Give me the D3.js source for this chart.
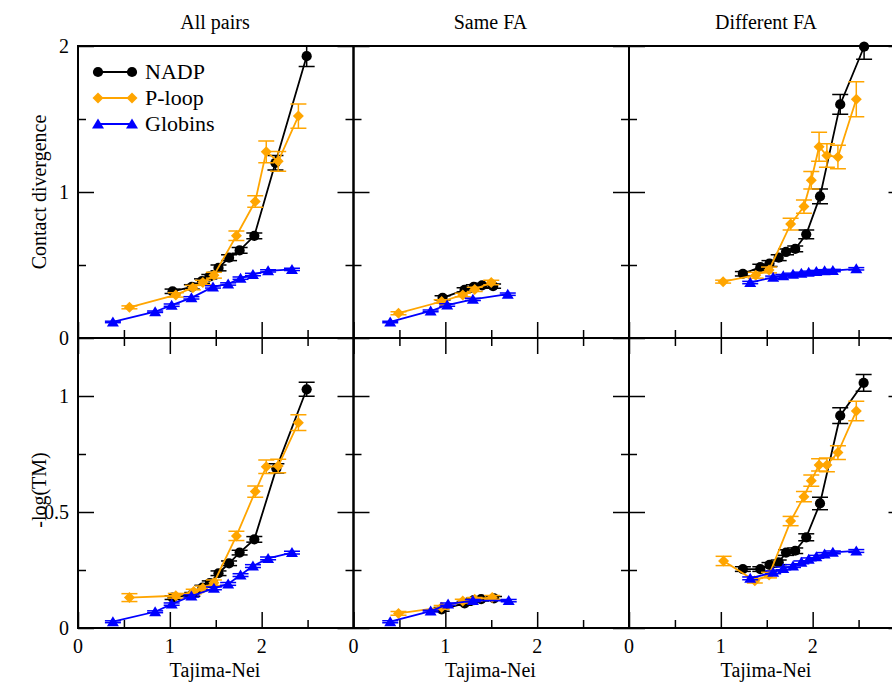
<!DOCTYPE html>
<html>
<head>
<meta charset="utf-8">
<script src="https://cdn.jsdelivr.net/npm/d3@7"></script>
<style>
  body { margin: 0; background: #fff; }
</style>
</head>
<body>
<div id="chart"></div>
<script>
// [Tajima-Nei, value, error]
var allCdNadp = [[1.03,0.32,0.015],[1.24,0.35,0.015],[1.35,0.39,0.015],[1.43,0.42,0.015],[1.53,0.48,0.02],[1.645,0.55,0.02],[1.76,0.60,0.02],[1.92,0.70,0.02],[2.15,1.20,0.05],[2.49,1.93,0.07]];
var allCdPloop = [[0.56,0.21,0.01],[1.065,0.295,0.015],[1.25,0.345,0.015],[1.36,0.38,0.015],[1.48,0.43,0.02],[1.725,0.70,0.033],[1.93,0.935,0.04],[2.05,1.275,0.075],[2.18,1.21,0.068],[2.40,1.52,0.083]];
var allCdGlob = [[0.38,0.11,0.005],[0.84,0.18,0.005],[1.02,0.225,0.008],[1.235,0.275,0.008],[1.47,0.35,0.008],[1.635,0.37,0.008],[1.77,0.41,0.008],[1.905,0.435,0.008],[2.07,0.46,0.008],[2.33,0.47,0.008]];

var sameCdNadp = [[0.97,0.275,0.015],[1.21,0.33,0.015],[1.31,0.35,0.015],[1.40,0.36,0.015],[1.52,0.355,0.015]];
var sameCdPloop = [[0.49,0.17,0.01],[0.96,0.25,0.012],[1.19,0.295,0.012],[1.32,0.333,0.015],[1.50,0.38,0.015]];
var sameCdGlob = [[0.40,0.11,0.005],[0.84,0.185,0.006],[1.02,0.226,0.008],[1.30,0.265,0.008],[1.68,0.30,0.008]];

var diffCdNadp = [[1.24,0.44,0.015],[1.43,0.485,0.02],[1.53,0.51,0.02],[1.63,0.55,0.02],[1.71,0.59,0.02],[1.81,0.61,0.02],[1.93,0.71,0.03],[2.08,0.97,0.05],[2.30,1.60,0.068],[2.56,1.995,0.086]];
var diffCdPloop = [[1.025,0.386,0.01],[1.38,0.43,0.02],[1.525,0.466,0.02],[1.76,0.78,0.04],[1.905,0.90,0.045],[1.985,1.08,0.06],[2.07,1.31,0.10],[2.155,1.25,0.08],[2.275,1.24,0.08],[2.475,1.635,0.12]];
var diffCdGlob = [[1.32,0.38,0.008],[1.57,0.416,0.008],[1.68,0.427,0.008],[1.786,0.436,0.008],[1.877,0.443,0.008],[1.957,0.45,0.008],[2.04,0.455,0.008],[2.13,0.46,0.008],[2.22,0.462,0.008],[2.475,0.474,0.008]];

var allTmNadp = [[1.03,0.131,0.008],[1.245,0.145,0.008],[1.355,0.174,0.01],[1.435,0.193,0.01],[1.53,0.236,0.01],[1.645,0.279,0.01],[1.76,0.325,0.01],[1.92,0.382,0.012],[2.16,0.688,0.02],[2.49,1.029,0.03]];
var allTmPloop = [[0.56,0.131,0.017],[1.065,0.139,0.01],[1.26,0.157,0.01],[1.36,0.171,0.01],[1.48,0.195,0.012],[1.725,0.397,0.02],[1.93,0.588,0.024],[2.05,0.695,0.029],[2.18,0.698,0.029],[2.40,0.885,0.034]];
var allTmGlob = [[0.38,0.027,0.004],[0.84,0.070,0.004],[1.02,0.103,0.005],[1.235,0.138,0.005],[1.48,0.171,0.006],[1.635,0.19,0.006],[1.77,0.228,0.006],[1.905,0.267,0.006],[2.07,0.30,0.006],[2.33,0.325,0.006]];

var sameTmNadp = [[0.96,0.08,0.008],[1.21,0.106,0.008],[1.31,0.12,0.008],[1.39,0.124,0.008],[1.53,0.128,0.008]];
var sameTmPloop = [[0.49,0.063,0.008],[0.96,0.089,0.008],[1.19,0.116,0.008],[1.32,0.124,0.008],[1.51,0.132,0.008]];
var sameTmGlob = [[0.40,0.027,0.004],[0.84,0.073,0.004],[1.03,0.103,0.005],[1.30,0.118,0.005],[1.69,0.118,0.005]];

var diffTmNadp = [[1.24,0.254,0.01],[1.43,0.254,0.01],[1.53,0.272,0.01],[1.63,0.283,0.01],[1.71,0.325,0.012],[1.81,0.333,0.012],[1.93,0.391,0.015],[2.08,0.537,0.027],[2.30,0.915,0.034],[2.555,1.057,0.036]];
var diffTmPloop = [[1.03,0.289,0.02],[1.37,0.204,0.01],[1.525,0.228,0.012],[1.76,0.461,0.02],[1.905,0.566,0.022],[1.985,0.635,0.024],[2.07,0.703,0.026],[2.155,0.703,0.03],[2.275,0.756,0.03],[2.475,0.935,0.042]];
var diffTmGlob = [[1.32,0.214,0.006],[1.57,0.24,0.006],[1.68,0.257,0.006],[1.786,0.267,0.006],[1.877,0.283,0.006],[1.957,0.296,0.006],[2.04,0.307,0.006],[2.13,0.319,0.006],[2.22,0.326,0.006],[2.475,0.332,0.006]];

var columnTitles = ["All pairs", "Same FA", "Different FA"];
var seriesNames = ["NADP", "P-loop", "Globins"];
var seriesColors = ["#000000", "#ffa500", "#0000ff"];
var xMajor = [0, 1, 2];
var xMinor = [0.5, 1.5, 2.5];
var topYMajor = [0, 1, 2];
var topYMinor = [0.5, 1.5];
var botYMajor = [0, 0.5, 1];
var botYMinor = [0.25, 0.75];

var serif = "'Liberation Serif', 'Times New Roman', Times, 'DejaVu Serif', serif";
var fontSize = "20px";

var svgWidth = 892;
var svgHeight = 682;

var svg = d3.select("#chart")
  .append("svg")
  .attr("width", svgWidth)
  .attr("height", svgHeight)
  .attr("font-family", serif)
  .style("font-family", serif);

var panelLeft = [78, 353.5, 629];
var panelWidth = 275.5;

var rows = [
  { top: 46, bottom: 338, domain: [0, 2], major: topYMajor, minor: topYMinor, label: "Contact divergence", labelY: 192, pxPerUnit: 146,
    data: [[allCdNadp, allCdPloop, allCdGlob], [sameCdNadp, sameCdPloop, sameCdGlob], [diffCdNadp, diffCdPloop, diffCdGlob]] },
  { top: 338, bottom: 628, domain: [0, 1.25], major: botYMajor, minor: botYMinor, label: "-log(TM)", labelY: 490, pxPerUnit: 232,
    data: [[allTmNadp, allTmPloop, allTmGlob], [sameTmNadp, sameTmPloop, sameTmGlob], [diffTmNadp, diffTmPloop, diffTmGlob]] }
];

function markerPath(i) {
  if (i === 0) return d3.symbol(d3.symbolCircle, 82)();
  if (i === 1) return "M0,-5.5L5.5,0L0,5.5L-5.5,0Z";
  return "M0,-5.5L6,4.5L-6,4.5Z";
}

function drawSeries(g, clipId, x, y, pts, i) {
  var color = seriesColors[i];
  var lineG = g.append("g").attr("clip-path", `url(#${clipId})`);
  var line = d3.line().x(d => x(d[0])).y(d => y(d[1]));
  lineG.append("path")
    .datum(pts)
    .attr("d", line)
    .attr("fill", "none")
    .attr("stroke", color)
    .attr("stroke-width", 1.8);

  var eb = lineG.selectAll(null).data(pts).enter().append("g")
    .attr("stroke", color)
    .attr("stroke-width", 1.5);
  eb.append("line")
    .attr("x1", d => x(d[0])).attr("x2", d => x(d[0]))
    .attr("y1", d => y(d[1] - d[2])).attr("y2", d => y(d[1] + d[2]));
  eb.append("line")
    .attr("x1", d => x(d[0]) - 8).attr("x2", d => x(d[0]) + 8)
    .attr("y1", d => y(d[1] + d[2])).attr("y2", d => y(d[1] + d[2]));
  eb.append("line")
    .attr("x1", d => x(d[0]) - 8).attr("x2", d => x(d[0]) + 8)
    .attr("y1", d => y(d[1] - d[2])).attr("y2", d => y(d[1] - d[2]));

  g.selectAll(null).data(pts).enter().append("path")
    .attr("d", markerPath(i))
    .attr("transform", d => `translate(${x(d[0])},${y(d[1])})`)
    .attr("fill", color);
}

function tickAxis(axisFn, scale, values, size) {
  return axisFn(scale).tickValues(values).tickSize(size).tickFormat("");
}

var defs = svg.append("defs");

rows.forEach(function(row, r) {
  var y = d3.scaleLinear().domain(row.domain)
    .range([row.bottom, row.bottom - (row.domain[1] - row.domain[0]) * row.pxPerUnit]);

  panelLeft.forEach(function(x0, c) {
    var x = d3.scaleLinear().domain([0, 3]).range([x0, x0 + panelWidth]);
    var g = svg.append("g");

    var clipId = `clip-${r}-${c}`;
    defs.append("clipPath").attr("id", clipId)
      .append("rect")
      .attr("x", x0).attr("y", row.top)
      .attr("width", panelWidth).attr("height", row.bottom - row.top);

    // inward ticks on every side
    var axes = [
      [d3.axisBottom, x, xMajor, -16, `translate(0,${row.bottom})`],
      [d3.axisBottom, x, xMinor, -8, `translate(0,${row.bottom})`],
      [d3.axisLeft, y, row.major, -16, `translate(${x0},0)`],
      [d3.axisLeft, y, row.minor, -8, `translate(${x0},0)`],
      [d3.axisRight, y, row.major, -16, `translate(${x0 + panelWidth},0)`],
      [d3.axisRight, y, row.minor, -8, `translate(${x0 + panelWidth},0)`]
    ];
    if (r === 1) {
      axes.push([d3.axisTop, x, xMajor, -16, `translate(0,${row.top})`]);
      axes.push([d3.axisTop, x, xMinor, -8, `translate(0,${row.top})`]);
    }
    axes.forEach(function(a) {
      var ag = g.append("g").attr("transform", a[4]).call(tickAxis(a[0], a[1], a[2], a[3]));
      ag.select(".domain").remove();
      ag.selectAll("line").attr("stroke", "#000").attr("stroke-width", 1.5);
    });

    var dataG = g.append("g");
    row.data[c].forEach(function(pts, i) { drawSeries(dataG, clipId, x, y, pts, i); });

    g.insert("rect", ":first-child")
      .attr("x", x0).attr("y", row.top)
      .attr("width", panelWidth).attr("height", row.bottom - row.top)
      .attr("fill", "none").attr("stroke", "#000").attr("stroke-width", 2);

    if (r === 0) {
      svg.append("text")
        .attr("x", x0 + 137).attr("y", 29)
        .attr("text-anchor", "middle").attr("font-size", fontSize)
        .text(columnTitles[c]);
    } else {
      svg.selectAll(null).data(xMajor).enter().append("text")
        .attr("x", d => x(d)).attr("y", 653)
        .attr("text-anchor", "middle").attr("font-size", fontSize)
        .text(d => d);
      svg.append("text")
        .attr("x", x0 + 137).attr("y", 677)
        .attr("text-anchor", "middle").attr("font-size", fontSize)
        .text("Tajima-Nei");
    }

    if (c === 0) {
      svg.selectAll(null).data(row.major).enter().append("text")
        .attr("x", 69).attr("y", d => y(d))
        .attr("dy", "0.35em")
        .attr("text-anchor", "end").attr("font-size", fontSize)
        .text(d => d);
      svg.append("text")
        .attr("transform", `translate(46,${row.labelY}) rotate(-90)`)
        .attr("text-anchor", "middle").attr("font-size", fontSize)
        .text(row.label);
    }
  });
});

// legend
var legend = svg.append("g");
seriesNames.forEach(function(name, i) {
  var ly = 72 + i * 26;
  legend.append("line")
    .attr("x1", 98).attr("x2", 132).attr("y1", ly).attr("y2", ly)
    .attr("stroke", seriesColors[i]).attr("stroke-width", 1.8);
  [98, 132].forEach(function(lx) {
    legend.append("path")
      .attr("d", markerPath(i))
      .attr("transform", `translate(${lx},${ly})`)
      .attr("fill", seriesColors[i]);
  });
  legend.append("text")
    .attr("x", 145).attr("y", ly + 7)
    .attr("font-size", "22px")
    .text(name);
});
</script>
</body>
</html>
